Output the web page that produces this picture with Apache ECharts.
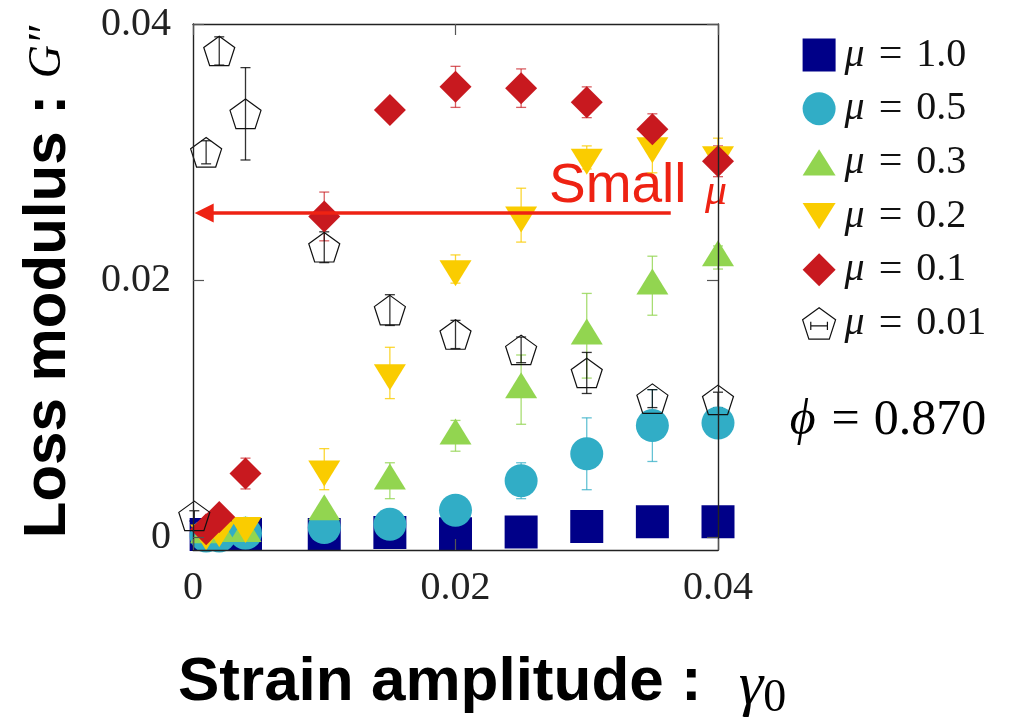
<!DOCTYPE html>
<html>
<head>
<meta charset="utf-8">
<script src="https://cdn.jsdelivr.net/npm/echarts@6/dist/echarts.min.js"></script>
<style>
  html, body { margin: 0; background: #fff; }
  #chart { width: 1011px; height: 718px; }
</style>
</head>
<body>
<div id="chart"></div>
<script>
// strain amplitude gamma_0
const strain = [0.001, 0.002, 0.004, 0.01, 0.015, 0.02, 0.025, 0.03, 0.035, 0.04];
const strainMu001 = [0.0001, 0.001, 0.002, 0.004, 0.01, 0.015, 0.02, 0.025, 0.03, 0.035, 0.04];

// loss modulus G'' (and its error) for each friction coefficient mu
const gMu10 = [0.0002, 0.0002, 0.0002, 0.0002, 0.00037, 0.00027, 0.0004, 0.00083, 0.0012, 0.0012];
const errMu10 = [0.0001, 0.0001, 0.0001, 0.0001, 0.0001, 0.0001, 0.0001, 0.0002, 0.0002, 0.0002];
const gMu05 = [0.0001, 0.0001, 0.0003, 0.00075, 0.001, 0.0021, 0.0044, 0.0065, 0.0087, 0.0089];
const errMu05 = [0.0002, 0.0002, 0.0002, 0.0003, 0.0003, 0.0005, 0.0014, 0.0028, 0.0028, 0.0005];
const gMu03 = [0.0002, 0.0003, 0.0003, 0.002, 0.0044, 0.0079, 0.0115, 0.0157, 0.0196, 0.0218];
const errMu03 = [0.0002, 0.0002, 0.0002, 0.0005, 0.0014, 0.0012, 0.0027, 0.0033, 0.0023, 0.0009];
const gMu02 = [0.0003, 0.00056, 0.0009, 0.0053, 0.0128, 0.0209, 0.0251, 0.0296, 0.0305, 0.0298];
const errMu02 = [0.0002, 0.0002, 0.0003, 0.0016, 0.002, 0.0011, 0.0021, 0.0009, 0.0021, 0.0013];
const gMu01 = [0.00062, 0.00158, 0.00496, 0.025, 0.0333, 0.0351, 0.035, 0.0339, 0.0318, 0.0293];
const errMu01 = [0.0002, 0.0003, 0.0012, 0.0019, 0.0005, 0.0016, 0.0015, 0.0012, 0.0012, 0.0012];
const gMu001 = [0.00166, 0.030, 0.0379, 0.033, 0.0226, 0.0177, 0.0158, 0.0146, 0.0128, 0.0108, 0.0107];
const errMu001 = [0.0004, 0.0009, 0.0011, 0.0036, 0.0012, 0.0012, 0.0011, 0.001, 0.0016, 0.0007, 0.0006];

const yTicks = [0, 0.02, 0.04];

// the arrow "Small mu" points along
const arrowY = 0.02527;
const arrowFrom = 0.0364;
const arrowTo = 0.00085;

const serif = '"Liberation Serif", "DejaVu Serif", serif';
const sans = '"Liberation Sans", Arial, sans-serif';

const pentagon = 'path://M50,0L97.55,34.55L79.39,90.45L20.61,90.45L2.45,34.55Z';
const pentagonKey = 'path://M50,0L97.55,34.55L79.39,90.45L20.61,90.45L2.45,34.55Z' +
  'M26,52L74,52M26,40L26,64M74,40L74,64';
const triUp = 'path://M50,0L100,80L0,80Z';
const triDown = 'path://M0,0L100,0L50,80Z';

function errorBars(name, color, xs, ys, errs) {
  return {
    type: 'custom',
    name: name + ' err',
    silent: true,
    clip: false,
    data: xs.map((x, i) => [x, ys[i] - errs[i], ys[i] + errs[i]]),
    renderItem: function (params, api) {
      const lo = api.coord([api.value(0), api.value(1)]);
      const hi = api.coord([api.value(0), api.value(2)]);
      const style = { stroke: color, lineWidth: 1.3 };
      return {
        type: 'group',
        children: [
          { type: 'line', shape: { x1: lo[0], y1: lo[1], x2: hi[0], y2: hi[1] }, style: style },
          { type: 'line', shape: { x1: lo[0] - 5, y1: lo[1], x2: lo[0] + 5, y2: lo[1] }, style: style },
          { type: 'line', shape: { x1: hi[0] - 5, y1: hi[1], x2: hi[0] + 5, y2: hi[1] }, style: style }
        ]
      };
    }
  };
}

function points(name, xs, ys, symbol, size, itemStyle, offset) {
  return {
    type: 'scatter',
    name: name,
    clip: false,
    symbol: symbol,
    symbolSize: size,
    symbolOffset: offset || [0, 0],
    symbolKeepAspect: false,
    itemStyle: Object.assign({ opacity: 1 }, itemStyle),
    data: xs.map((x, i) => [x, ys[i]])
  };
}

const chart = echarts.init(document.getElementById('chart'));

const red = points('μ = 0.1', strain, gMu01, 'diamond', 32, { color: '#C8191F' });
red.markLine = {
  silent: true,
  symbol: ['none', 'triangle'],
  symbolSize: [19, 19],
  label: { show: false },
  lineStyle: { color: '#EE2213', width: 3.5, type: 'solid', opacity: 1 },
  data: [[{ coord: [arrowFrom, arrowY] }, { coord: [arrowTo, arrowY] }]]
};

const axisCommon = {
  z: 10,
  splitLine: { show: false },
  axisLine: { show: true, onZero: false, lineStyle: { color: '#222', width: 1.4 } },
  axisTick: { show: true, inside: true, length: 11, lineStyle: { color: '#555', width: 1.2 } }
};

chart.setOption({
  animation: false,
  backgroundColor: '#fff',
  grid: { left: 193, right: 293, top: 24, bottom: 168 },
  xAxis: [
    Object.assign({}, axisCommon, {
      type: 'value', position: 'bottom', min: 0, max: 0.04, interval: 0.02,
      axisLabel: {
        margin: 18, fontFamily: serif, fontSize: 40, color: '#222',
        formatter: v => (v === 0 ? '0' : String(v))
      }
    }),
    Object.assign({}, axisCommon, {
      type: 'value', position: 'top', min: 0, max: 0.04, interval: 0.02,
      axisLabel: { show: false }
    })
  ],
  yAxis: [
    Object.assign({}, axisCommon, {
      type: 'value', position: 'left', min: -0.001, max: 0.04,
      axisTick: Object.assign({}, axisCommon.axisTick, { customValues: yTicks }),
      axisLabel: {
        customValues: yTicks, margin: 22, fontFamily: serif, fontSize: 40, color: '#222',
        formatter: v => (v === 0 ? '0' : String(v))
      }
    }),
    Object.assign({}, axisCommon, {
      type: 'value', position: 'right', min: -0.001, max: 0.04,
      axisTick: Object.assign({}, axisCommon.axisTick, { customValues: yTicks }),
      axisLabel: { show: false }
    })
  ],
  legend: {
    orient: 'vertical',
    left: 797,
    top: 29,
    itemWidth: 33,
    itemHeight: 33,
    itemGap: 11.7,
    selectedMode: false,
    textStyle: {
      fontFamily: serif, fontSize: 40, color: '#111', lineHeight: 33, padding: [0, 0, 0, 4],
      rich: {
        m: { fontFamily: serif, fontStyle: 'italic', fontSize: 40, lineHeight: 33, padding: [0, 14, 0, 0] },
        e: { fontFamily: serif, fontSize: 42, lineHeight: 33, padding: [0, 14, 0, 0] },
        n: { fontFamily: serif, fontSize: 40, lineHeight: 33 }
      }
    },
    formatter: name => '{m|μ}{e|=}{n|' + name.split('= ')[1] + '}',
    data: [
      { name: 'μ = 1.0' },
      { name: 'μ = 0.5' },
      { name: 'μ = 0.3' },
      { name: 'μ = 0.2' },
      { name: 'μ = 0.1' },
      { name: 'μ = 0.01', icon: pentagonKey, itemStyle: { color: 'rgba(0,0,0,0)', borderColor: '#111', borderWidth: 1.2 } }
    ]
  },
  series: [
    errorBars('μ = 1.0', 'rgba(0,0,136,0.6)', strain, gMu10, errMu10),
    points('μ = 1.0', strain, gMu10, 'rect', 33, { color: '#000088' }),
    errorBars('μ = 0.5', 'rgba(49,173,198,0.75)', strain, gMu05, errMu05),
    points('μ = 0.5', strain, gMu05, 'circle', 33, { color: '#31ADC6' }),
    errorBars('μ = 0.3', 'rgba(146,213,80,0.8)', strain, gMu03, errMu03),
    points('μ = 0.3', strain, gMu03, triUp, [32, 26], { color: '#92D550' }, [0, -4.3]),
    errorBars('μ = 0.2', 'rgba(250,204,0,0.8)', strain, gMu02, errMu02),
    points('μ = 0.2', strain, gMu02, triDown, [32, 26], { color: '#FACC00' }, [0, 4.3]),
    errorBars('μ = 0.1', 'rgba(200,25,31,0.7)', strain, gMu01, errMu01),
    red,
    errorBars('μ = 0.01', 'rgba(0,0,0,0.8)', strainMu001, gMu001, errMu001),
    points('μ = 0.01', strainMu001, gMu001, pentagon, [31, 29.5],
      { color: 'rgba(0,0,0,0)', borderColor: '#111', borderWidth: 1.2 })
  ],
  graphic: [
    {
      type: 'text', x: 48, y: 282, rotation: Math.PI / 2,
      style: {
        text: '{t|Loss modulus : }{g|G″}',
        align: 'center', verticalAlign: 'middle', fill: '#000',
        rich: {
          t: { fontFamily: sans, fontWeight: 'bold', fontSize: 60, fill: '#000' },
          g: { fontFamily: serif, fontStyle: 'italic', fontSize: 46, fill: '#000' }
        }
      }
    },
    {
      type: 'text', x: 178, y: 683,
      style: {
        text: '{t|Strain amplitude : }{g|γ}{s|0}',
        align: 'left', verticalAlign: 'middle', fill: '#000',
        rich: {
          t: { fontFamily: sans, fontWeight: 'bold', fontSize: 62, fill: '#000' },
          g: { fontFamily: serif, fontStyle: 'italic', fontSize: 62, fill: '#000', padding: [10, 0, 0, 20] },
          s: { fontFamily: serif, fontSize: 46, fill: '#000', padding: [32, 0, 0, 0] }
        }
      }
    },
    {
      type: 'text', x: 549, y: 187,
      style: { text: 'Small', font: '55px ' + sans, fill: '#EE2213', verticalAlign: 'middle' }
    },
    {
      type: 'text', x: 705, y: 192,
      style: { text: 'μ', font: 'italic 44px ' + serif, fill: '#EE2213', verticalAlign: 'middle' }
    },
    {
      type: 'text', x: 888, y: 421,
      style: {
        text: '{p|ϕ}{e|=}{n|0.870}',
        align: 'center', verticalAlign: 'middle',
        rich: {
          p: { fontFamily: serif, fontStyle: 'italic', fontSize: 50, fill: '#000', padding: [0, 16, 0, 0] },
          e: { fontFamily: serif, fontSize: 50, fill: '#000', padding: [0, 14, 0, 0] },
          n: { fontFamily: serif, fontSize: 50, fill: '#000' }
        }
      }
    }
  ]
});
</script>
</body>
</html>
